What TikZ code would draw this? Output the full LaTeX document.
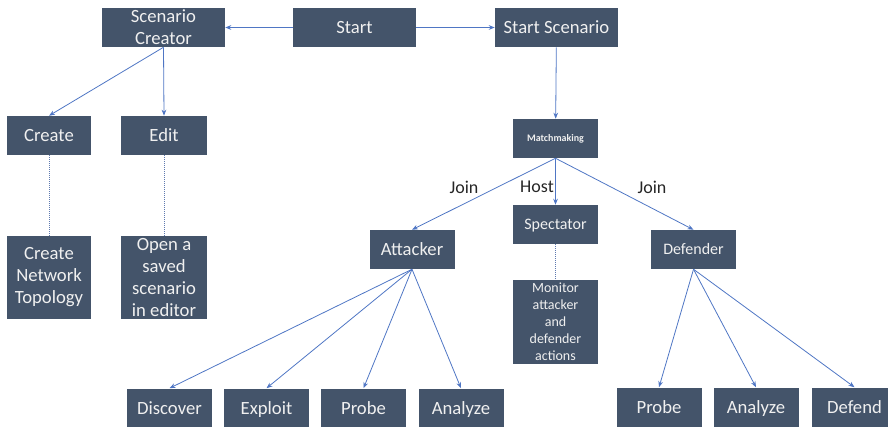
\documentclass[tikz,border=0pt]{standalone}
\usepackage{fontspec}
\setmainfont{Carlito}
\usetikzlibrary{arrows.meta}
\definecolor{boxfill}{HTML}{44546A}
\definecolor{boxtext}{HTML}{F0F0F0}
\definecolor{edgeblue}{HTML}{4F76C4}
\definecolor{labeltext}{HTML}{262626}

\begin{document}
\begin{tikzpicture}[x=0.75pt,y=-0.75pt]
        \tikzset{Box/.style={fill=boxfill,text=boxtext,inner sep=0pt,align=center,
                    minimum width=63.75pt,minimum height=29.25pt,
                    font=\fontsize{14}{16.5}\selectfont},
                 OneLine/.style={text height=11.2pt,text depth=2.2pt},
                 SmallLine/.style={font=\fontsize{12}{14}\selectfont,text height=9.6pt,text depth=1.9pt},
                 WideBox/.style={Box,minimum width=92.25pt},
                 TallBox/.style={Box,minimum height=62.5pt},
                 EdgeStyle/.style={draw=edgeblue,line width=0.6pt,-{Stealth[length=4.5pt,width=3.5pt]}},
                 DotStyle/.style={draw=edgeblue!70!gray,line width=0.5pt,densely dotted},
                 Lbl/.style={text=labeltext,font=\fontsize{13.5}{16}\selectfont}}

        \useasboundingbox (0,0) rectangle (888,427);
        \clip (0,0) rectangle (888,427);

        \node[WideBox] (Creator) at (163.5,27.5) {Scenario\\Creator};
        \node[WideBox,OneLine] (Start)   at (354.5,27.5) {Start};
        \node[WideBox,OneLine] (StartSc) at (556.5,27.5) {Start Scenario};

        \node[Box,OneLine,minimum width=63pt]   (Create) at (49,135.5)  {Create};
        \node[Box,OneLine,minimum width=64.5pt] (Edit)   at (164,135.5) {Edit};
        \node[TallBox,minimum width=63pt]   (Topo) at (49,277.5)  {Create\\Network\\Topology};
        \node[TallBox,minimum width=64.5pt] (Open) at (164,277.5) {Open a\\saved\\scenario\\in editor};

        \node[Box,font=\fontsize{7.5}{9}\selectfont\bfseries] (Match) at (555.5,138.5) {Matchmaking};
        \node[Box,OneLine] (Attacker)  at (412,249.5)   {Attacker};
        \node[Box,SmallLine] (Spectator) at (555.5,224.5) {Spectator};
        \node[TallBox,minimum height=63pt,font=\fontsize{10.5}{12.75}\selectfont] (Monitor) at (555.5,322)
            {Monitor\\attacker\\and\\defender\\actions};
        \node[Box,SmallLine] (Defender) at (693.5,249.5) {Defender};

        \node[Box,OneLine] (Discover) at (169.5,408) {Discover};
        \node[Box,OneLine] (Exploit)  at (266.5,408) {Exploit};
        \node[Box,OneLine] (ProbeA)   at (363.5,408) {Probe};
        \node[Box,OneLine] (AnalyzeA) at (461,408)   {Analyze};
        \node[Box,OneLine] (ProbeD)   at (659,407)   {Probe};
        \node[Box,OneLine] (AnalyzeD) at (756,407)   {Analyze};
        \node[Box,OneLine] (Defend)   at (854.5,407) {Defend};

        \node[Lbl] (JoinA) at (464,187) {Join};
        \node[Lbl] (Host)  at (537,187) {Host};
        \node[Lbl] (JoinD) at (652,187) {Join};

        \draw[EdgeStyle] (Start) -- (Creator);
        \draw[EdgeStyle] (Start) -- (StartSc);
        \draw[EdgeStyle] (Creator.south) -- (Create.north);
        \draw[EdgeStyle] (Creator.south) -- (Edit.north);
        \draw[DotStyle]  (Create) -- (Topo);
        \draw[DotStyle]  (Edit) -- (Open);
        \draw[EdgeStyle] (StartSc) -- (Match);

        \draw[EdgeStyle] (Match.south) -- (Attacker.north);
        \draw[EdgeStyle] (Match.south) -- (Spectator.north);
        \draw[EdgeStyle] (Match.south) -- (Defender.north);
        \draw[DotStyle]  (Spectator) -- (Monitor);

        \foreach \t in {Discover,Exploit,ProbeA,AnalyzeA}
            \draw[EdgeStyle] (Attacker.south) -- (\t.north);
        \foreach \t in {ProbeD,AnalyzeD,Defend}
            \draw[EdgeStyle] (Defender.south) -- (\t.north);
    \end{tikzpicture}
\end{document}
